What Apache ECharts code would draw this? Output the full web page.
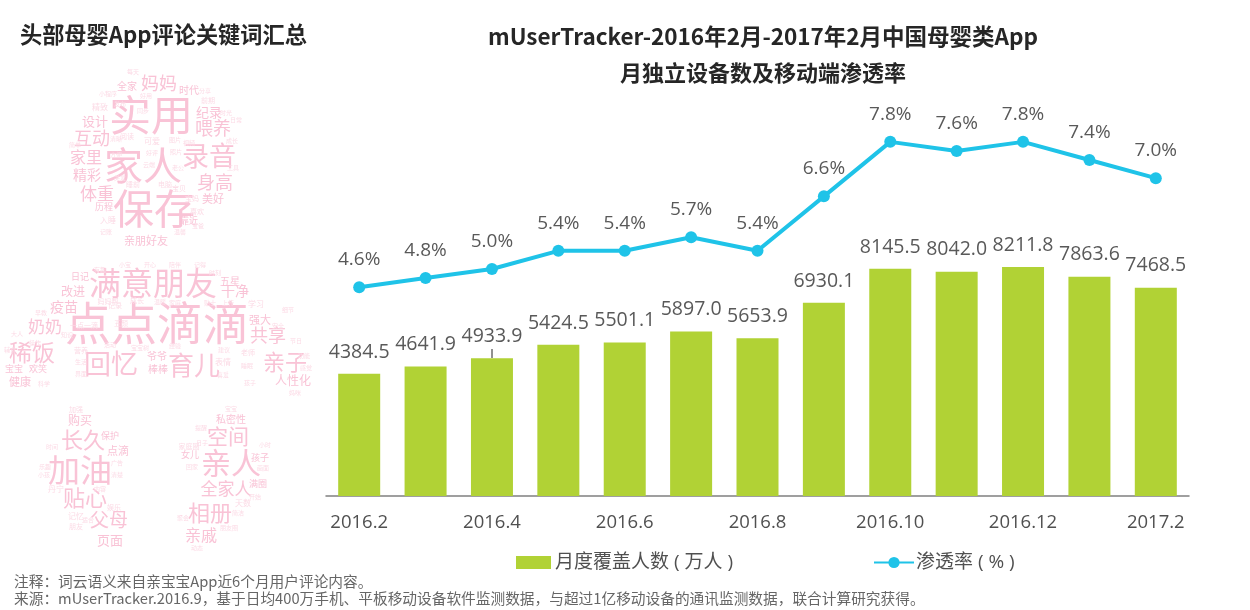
<!DOCTYPE html>
<html style="height: 100%" lang="zh">
<head>
    <meta charset="utf-8">
    <script type="text/javascript" src="https://cdn.jsdelivr.net/npm/echarts@6/dist/echarts.min.js"></script>
</head>
<body style="height: 100%; margin: 0; background: #fff">
<div id="container" style="width: 1250px; height: 610px"></div>
<script type="text/javascript">
    var months = ['2016.2', '2016.3', '2016.4', '2016.5', '2016.6', '2016.7', '2016.8', '2016.9', '2016.10', '2016.11', '2016.12', '2017.1', '2017.2'];
    var users = [4384.5, 4641.9, 4933.9, 5424.5, 5501.1, 5897.0, 5653.9, 6930.1, 8145.5, 8042.0, 8211.8, 7863.6, 7468.5];
    var rates = [4.6, 4.8, 5.0, 5.4, 5.4, 5.7, 5.4, 6.6, 7.8, 7.6, 7.8, 7.4, 7.0];

    var barName = '月度覆盖人数 ( 万人 )';
    var lineName = '渗透率 ( % )';
    var latin = '"Open Sans", "Noto Sans CJK SC", sans-serif';
    var cjk = '"Noto Sans CJK SC", sans-serif';

    // word cloud: 词, x, y, 字号
    var cloudHead = [
        ['实用', 151, 115, 42], ['家人', 143, 165, 39], ['保存', 154, 208, 41], ['录音', 209, 156, 27],
        ['妈妈', 159, 83, 18], ['全家', 127, 86, 10], ['时代', 189, 90, 10], ['纪录', 209, 112, 13],
        ['喂养', 213, 128, 18], ['互动', 92, 138, 18], ['设计', 95, 121, 13], ['家里', 86, 157, 16],
        ['精彩', 87, 175, 14], ['身高', 215, 182, 18], ['体重', 97, 194, 17], ['美好', 213, 199, 11],
        ['历程', 104, 207, 9], ['靠近', 189, 221, 9], ['亲朋好友', 146, 241, 11], ['可爱', 152, 141, 8],
        ['前期', 208, 100, 7], ['好评', 152, 153, 6], ['云端', 149, 165, 6], ['电脑', 165, 184, 7],
        ['精致', 100, 107, 8], ['同步', 143, 111, 6], ['睡前', 133, 184, 7], ['宝贝', 179, 188, 7],
        ['发布', 120, 104, 6], ['小程序', 108, 94, 6], ['好用', 146, 96, 6], ['每天', 133, 72, 6],
        ['分享', 205, 91, 6], ['时光', 226, 113, 6], ['成长', 232, 141, 6], ['日常', 236, 120, 6],
        ['清晰', 116, 139, 6], ['阅读', 127, 136, 7], ['图片', 175, 140, 6], ['视频', 189, 143, 6],
        ['方便', 116, 155, 6], ['照片', 176, 152, 6], ['老公', 178, 168, 6], ['宝妈', 192, 198, 7],
        ['入睡', 108, 220, 8], ['简单', 75, 145, 6], ['工具', 233, 168, 6], ['喜欢', 197, 211, 7],
        ['宝爸', 198, 226, 6], ['记账', 106, 232, 6], ['温馨', 180, 232, 6], ['关爱', 120, 178, 6]
    ];
    var cloudBody = [
        ['点点滴滴', 157, 323, 46], ['满意朋友', 153, 283, 32], ['回忆', 111, 364, 27], ['育儿', 194, 365, 26],
        ['亲子', 285, 362, 22], ['稀饭', 32, 352, 23], ['奶奶', 45, 327, 17], ['共享', 268, 335, 18],
        ['人性化', 293, 380, 12], ['疫苗', 64, 307, 14], ['改进', 73, 291, 12], ['日记', 80, 277, 9],
        ['干净', 235, 291, 14], ['五星', 230, 281, 10], ['强大', 260, 320, 11], ['学习', 256, 304, 8],
        ['爷爷', 157, 356, 10], ['棒棒', 158, 369, 10], ['健康', 20, 382, 11], ['宝宝', 14, 369, 9],
        ['欢笑', 38, 369, 9], ['一点一滴', 84, 325, 7], ['五颜', 121, 323, 7], ['记录', 115, 305, 7],
        ['成长', 137, 300, 7], ['妈妈帮', 108, 301, 7], ['表情', 223, 362, 8], ['老师', 248, 352, 7],
        ['大人', 17, 334, 6], ['早教', 41, 313, 6], ['小宝', 125, 265, 6], ['开心', 150, 265, 6],
        ['陪伴', 175, 265, 6], ['记得', 200, 265, 6], ['有趣', 100, 270, 6], ['时刻', 215, 273, 6],
        ['温暖', 160, 302, 6], ['家庭', 175, 303, 6], ['贴士', 210, 303, 6], ['上传', 228, 303, 6],
        ['操作', 35, 343, 6], ['辅食', 10, 350, 6], ['知识', 67, 335, 6], ['营养', 81, 350, 7],
        ['生活', 81, 362, 6], ['界面', 81, 374, 6], ['建议', 224, 350, 6], ['喜爱', 223, 375, 6],
        ['睡眠', 247, 366, 6], ['节日', 296, 341, 6], ['功能', 304, 356, 6], ['感觉', 306, 368, 6],
        ['孩子', 250, 383, 6], ['安全', 278, 326, 6], ['细节', 288, 310, 6], ['科学', 44, 384, 6],
        ['宝宝树', 140, 348, 6], ['经验', 175, 346, 6], ['活动', 110, 345, 6], ['妈咪', 295, 393, 6]
    ];
    var cloudLeg = [
        ['加油', 80, 470, 32], ['长久', 83, 440, 22], ['贴心', 85, 498, 22], ['父母', 109, 520, 19],
        ['页面', 110, 540, 13], ['购买', 80, 420, 12], ['点滴', 118, 451, 11], ['保护', 110, 436, 9],
        ['记忆', 76, 516, 8], ['娱乐', 114, 507, 7], ['丹宁', 56, 489, 8], ['朋友', 76, 526, 7],
        ['亲人', 231, 463, 30], ['空间', 228, 436, 21], ['全家人', 226, 489, 17], ['相册', 210, 513, 22],
        ['亲戚', 201, 535, 16], ['私密性', 231, 419, 10], ['女儿', 190, 455, 9], ['孩子', 260, 458, 9],
        ['满圈', 258, 484, 9], ['天数', 243, 503, 8], ['家庭圈', 189, 446, 7], ['宝宝', 231, 409, 6],
        ['加强', 76, 409, 7], ['时间', 52, 447, 6], ['乐趣', 45, 467, 6], ['小孩', 44, 475, 6],
        ['广告', 117, 463, 6], ['清楚', 117, 475, 6], ['内容', 100, 489, 6], ['适合', 88, 520, 6],
        ['提醒', 201, 428, 6], ['日子', 202, 443, 6], ['回家', 192, 467, 6], ['小时', 265, 445, 6],
        ['画面', 263, 468, 6], ['开始', 255, 497, 6], ['简洁', 238, 513, 6], ['聚会', 183, 518, 6],
        ['朋友圈', 229, 528, 6], ['动态', 197, 548, 6]
    ];

    function wordText(w) {
        return {
            type: 'text',
            x: w[1],
            y: w[2],
            silent: true,
            style: {
                text: w[0],
                fill: w[3] < 9 ? '#fcdbe6' : '#f9c3d6',
                font: w[3] + 'px ' + cjk,
                textAlign: 'center',
                textVerticalAlign: 'middle'
            }
        };
    }

    var graphics = cloudHead.concat(cloudBody, cloudLeg).map(wordText);
    // 注释
    graphics.push({
        type: 'text', x: 14, y: 581,
        style: { text: '注释：词云语义来自亲宝宝App近6个月用户评论内容。', fill: '#666', font: '14.7px ' + cjk, textVerticalAlign: 'middle' }
    });
    graphics.push({
        type: 'text', x: 14, y: 598,
        style: { text: '来源：mUserTracker.2016.9，基于日均400万手机、平板移动设备软件监测数据，与超过1亿移动设备的通讯监测数据，联合计算研究获得。', fill: '#666', font: '14.7px ' + cjk, textVerticalAlign: 'middle' }
    });
    // 原图4933.9上方的小竖线
    graphics.push({
        type: 'line', silent: true,
        shape: { x1: 492, y1: 349, x2: 492, y2: 358 },
        style: { stroke: '#222', lineWidth: 1 }
    });

    var myChart = echarts.init(document.getElementById('container'));
    var option = {
        animation: false,
        title: [
            { text: '头部母婴App评论关键词汇总', left: 15, top: 18, textStyle: { fontFamily: cjk, fontSize: 22.2, fontWeight: 'bold', color: '#262626' } },
            { text: 'mUserTracker-2016年2月-2017年2月中国母婴类App', left: 758, top: 20, textAlign: 'center', textStyle: { fontFamily: cjk, fontSize: 22.5, fontWeight: 'bold', color: '#262626' } },
            { text: '月独立设备数及移动端渗透率', left: 758, top: 57, textAlign: 'center', textStyle: { fontFamily: cjk, fontSize: 22, fontWeight: 'bold', color: '#262626' } }
        ],
        legend: [
            {
                data: [{ name: barName, icon: 'rect' }], left: 511, top: 548, itemWidth: 35, itemHeight: 13, itemGap: 4,
                textStyle: { fontFamily: latin, fontSize: 19, color: '#505050', padding: [0, 0, 0, -1] }
            },
            {
                data: [lineName], left: 868, top: 548, itemWidth: 40, itemHeight: 14, itemGap: 2,
                textStyle: { fontFamily: latin, fontSize: 19, color: '#505050', padding: [0, 0, 0, -3] }
            }
        ],
        grid: { left: 326, right: 61, top: 96, height: 400 },
        xAxis: {
            type: 'category',
            data: months,
            axisTick: { show: false },
            axisLine: { lineStyle: { color: '#808080', width: 1.5 } },
            axisLabel: {
                interval: 1, margin: 17,
                fontFamily: latin, fontSize: 18.5, color: '#505050'
            }
        },
        yAxis: [
            { type: 'value', min: 0, max: 14340, show: false, splitLine: { show: false } },
            { type: 'value', min: 0, max: 8.81, show: false, splitLine: { show: false } }
        ],
        series: [
            {
                name: barName,
                type: 'bar',
                data: users,
                barWidth: 42,
                itemStyle: { color: '#b1d235' },
                label: {
                    show: true, position: 'top', distance: 12,
                    formatter: function (p) { return p.value.toFixed(1); },
                    fontFamily: latin, fontSize: 19.5, color: '#595959'
                }
            },
            {
                name: lineName,
                type: 'line',
                yAxisIndex: 1,
                data: rates,
                symbol: 'circle',
                symbolSize: 12,
                lineStyle: { color: '#1fc3e8', width: 4 },
                itemStyle: { color: '#1fc3e8' },
                label: {
                    show: true, position: 'top', distance: 12,
                    formatter: function (p) { return p.value.toFixed(1) + '%'; },
                    fontFamily: latin, fontSize: 19, color: '#595959'
                }
            }
        ],
        graphic: graphics
    };
    myChart.setOption(option);
</script>
</body>
</html>
